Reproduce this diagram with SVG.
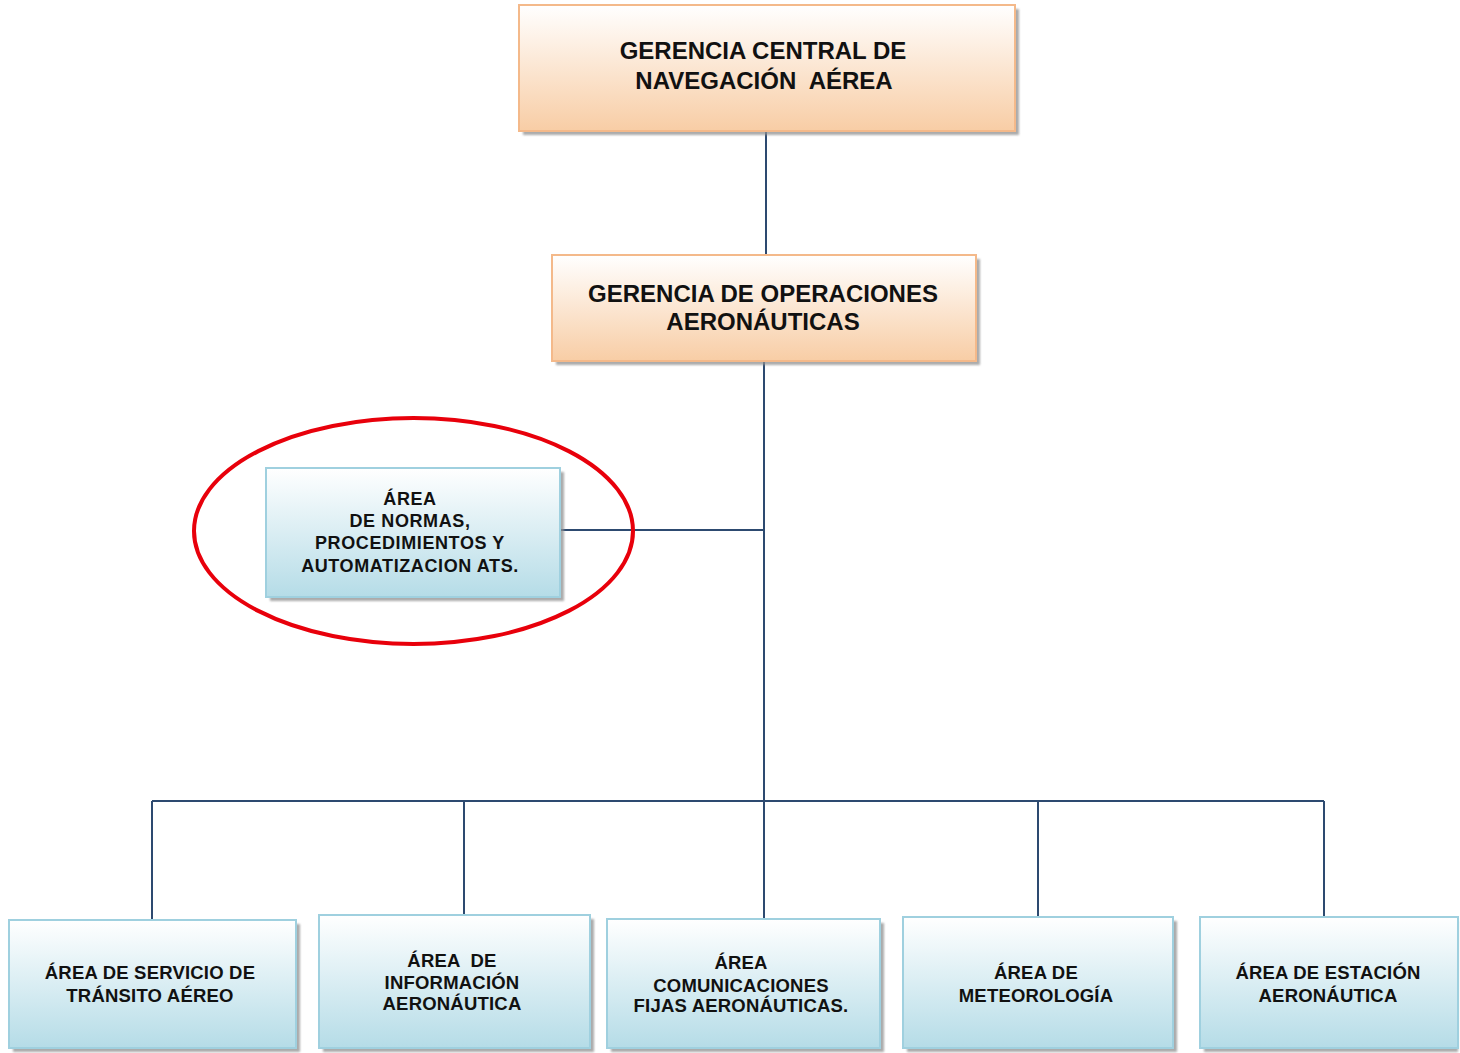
<svg xmlns="http://www.w3.org/2000/svg" width="1460" height="1053" viewBox="0 0 1460 1053">
<defs>
<linearGradient id="gOr" x1="0" y1="0" x2="0" y2="1">
<stop offset="0" stop-color="#ffffff"/><stop offset="1" stop-color="#f8cda5"/>
</linearGradient>
<linearGradient id="gBl" x1="0" y1="0" x2="0" y2="1">
<stop offset="0" stop-color="#ffffff"/><stop offset="1" stop-color="#b5dce7"/>
</linearGradient>
<filter id="sh" x="-5%" y="-5%" width="115%" height="120%">
<feGaussianBlur stdDeviation="1.2"/>
</filter>
</defs>
<style>
.sh{fill:#8f8f8f;opacity:0.75;filter:url(#sh)}
.or{fill:url(#gOr);stroke:#f4b98a;stroke-width:2}
.bl{fill:url(#gBl);stroke:#9fd0df;stroke-width:2}
.t{font-family:"Liberation Sans",Arial,sans-serif;font-weight:bold;fill:#111;text-anchor:middle}
.big{font-size:24px}
.mid{font-size:18px;letter-spacing:0.6px}
.sm{font-size:18.5px;letter-spacing:0.2px}
.ln{stroke:#2d4a70;stroke-width:2;fill:none}
</style>
<rect width="1460" height="1053" fill="#ffffff"/>
<g id="connectors">
<line class="ln" x1="766" y1="131" x2="766" y2="255"/>
<line class="ln" x1="764" y1="361" x2="764" y2="919"/>
<line class="ln" x1="560" y1="530" x2="764" y2="530"/>
<line class="ln" x1="152" y1="801" x2="1324" y2="801"/>
<line class="ln" x1="152" y1="801" x2="152" y2="920"/>
<line class="ln" x1="464" y1="801" x2="464" y2="915"/>
<line class="ln" x1="1038" y1="801" x2="1038" y2="917"/>
<line class="ln" x1="1324" y1="801" x2="1324" y2="917"/>
</g>
<g id="n-gcna">
<rect class="sh" x="523" y="9" width="496" height="126"/>
<rect class="or" x="519" y="5" width="496" height="126"/>
<text class="t big" x="763" y="59">GERENCIA CENTRAL DE</text>
<text class="t big" x="764" y="89" xml:space="preserve">NAVEGACIÓN  AÉREA</text>
</g>
<g id="n-goa">
<rect class="sh" x="556" y="259" width="424" height="106"/>
<rect class="or" x="552" y="255" width="424" height="106"/>
<text class="t big" x="763" y="302">GERENCIA DE OPERACIONES</text>
<text class="t big" x="763" y="330">AERONÁUTICAS</text>
</g>
<g id="n-ats">
<rect class="sh" x="270" y="472" width="294" height="129"/>
<rect class="bl" x="266" y="468" width="294" height="129"/>
<text class="t mid" x="410" y="505">ÁREA</text>
<text class="t mid" x="410" y="527">DE NORMAS,</text>
<text class="t mid" x="410" y="549">PROCEDIMIENTOS Y</text>
<text class="t mid" x="410" y="572">AUTOMATIZACION ATS.</text>
</g>
<g id="n-sta">
<rect class="sh" x="13" y="924" width="287" height="128"/>
<rect class="bl" x="9" y="920" width="287" height="128"/>
<text class="t sm" x="150" y="979">ÁREA DE SERVICIO DE</text>
<text class="t sm" x="150" y="1002">TRÁNSITO AÉREO</text>
</g>
<g id="n-ia">
<rect class="sh" x="323" y="919" width="271" height="133"/>
<rect class="bl" x="319" y="915" width="271" height="133"/>
<text class="t sm" x="452" y="967" xml:space="preserve">ÁREA  DE</text>
<text class="t sm" x="452" y="989">INFORMACIÓN</text>
<text class="t sm" x="452" y="1010">AERONÁUTICA</text>
</g>
<g id="n-cfa">
<rect class="sh" x="611" y="923" width="273" height="129"/>
<rect class="bl" x="607" y="919" width="273" height="129"/>
<text class="t sm" x="741" y="969">ÁREA</text>
<text class="t sm" x="741" y="992">COMUNICACIONES</text>
<text class="t sm" x="741" y="1012">FIJAS AERONÁUTICAS.</text>
</g>
<g id="n-met">
<rect class="sh" x="907" y="921" width="270" height="131"/>
<rect class="bl" x="903" y="917" width="270" height="131"/>
<text class="t sm" x="1036" y="979">ÁREA DE</text>
<text class="t sm" x="1036" y="1002">METEOROLOGÍA</text>
</g>
<g id="n-ea">
<rect class="sh" x="1204" y="921" width="254" height="131"/>
<rect class="bl" x="1200" y="917" width="258" height="131"/>
<text class="t sm" x="1328" y="979">ÁREA DE ESTACIÓN</text>
<text class="t sm" x="1328" y="1002">AERONÁUTICA</text>
</g>
<ellipse id="highlight" cx="413.5" cy="531" rx="219.5" ry="113" fill="none" stroke="#e8000b" stroke-width="4"/>
</svg>
